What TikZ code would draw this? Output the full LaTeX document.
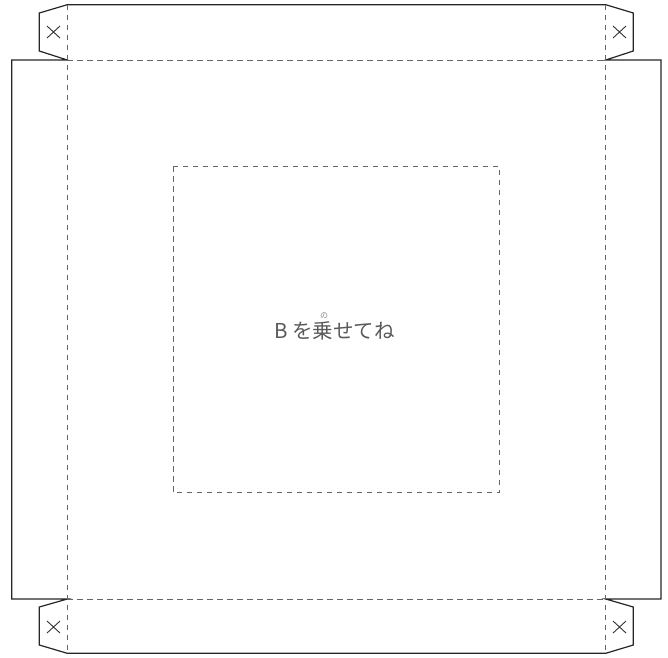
\documentclass[tikz,border=0pt]{standalone}
\usepackage{fontspec}
\newfontfamily\cjk{Noto Sans CJK JP}
\begin{document}
\begin{tikzpicture}[x=1pt,y=-1pt,
  cut/.style={draw=black!85,line width=1.2pt,line join=miter},
  fold/.style={draw=black!60,line width=0.9pt,dash pattern=on 5.5pt off 4.5pt},
  xmark/.style={draw=black!80,line width=0.9pt},
  lbl/.style={inner sep=0pt,text=black!65,font=\cjk\fontsize{20.5}{20.5}\selectfont},
  ruby/.style={inner sep=0pt,text=black!45,font=\cjk\fontsize{8}{8}\selectfont}]
\useasboundingbox (0,0) rectangle (668,657);
% corner coordinates
\coordinate (tl) at (67.3,60);
\coordinate (tr) at (605.7,60);
\coordinate (bl) at (67.3,599);
\coordinate (br) at (605.7,599);
% outer cut line
\draw[cut] (tl) -- (39.3,51) -- (39.3,13) -- (67.3,4.7) -- (605.7,4.7) -- (633.3,13) -- (633.3,51) -- (tr)
  -- (661,60) -- (661,599) -- (br)
  -- (633.3,607) -- (633.3,645) -- (605.7,653.3) -- (67.3,653.3) -- (39.3,645) -- (39.3,607) -- (bl)
  -- (11.7,599) -- (11.7,60) -- cycle;
% fold lines
\draw[fold] (tl) -- (tr);
\draw[fold] (bl) -- (br);
\draw[fold] (67.3,4.7) -- (67.3,653.3);
\draw[fold] (605.7,4.7) -- (605.7,653.3);
% inner square
\draw[fold] (173.3,166.3) rectangle (499.3,492.7);
% x marks
\foreach \cx/\cy in {53.5/32, 619.5/32, 53.5/627, 619.5/627}{
  \draw[xmark] (\cx-6.5,\cy-6) -- (\cx+6.5,\cy+6) (\cx-6.5,\cy+6) -- (\cx+6.5,\cy-6);
}
% label
\node[lbl] (label) at (334.5,330.5) {B を乗せてね};
\node[ruby] (rb) at (324,315.5) {の};
\end{tikzpicture}
\end{document}
